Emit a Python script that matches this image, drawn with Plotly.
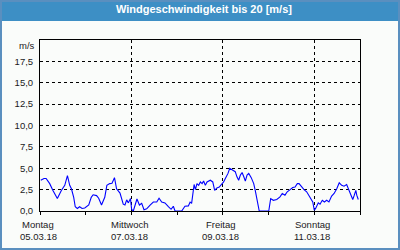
import plotly.graph_objects as go

# hours since Montag 05.03.18 00:00
hours = [0.4, 2.1, 3.2, 5.1, 6.8, 9.1, 11.2, 13.0, 14.4, 15.6, 16.5, 17.7, 18.5, 19.6, 20.8,
         22.1, 23.5, 24.4, 25.6, 26.9, 27.9, 29.7, 30.8, 32.3, 34.0, 35.1, 36.6, 37.8, 39.1,
         40.2, 42.0, 43.7, 44.6, 45.5, 46.4, 47.5, 48.1, 49.0, 50.9, 52.2, 53.4, 54.6, 56.0,
         57.8, 59.5, 61.3, 62.5, 63.9, 65.6, 67.4, 68.8, 70.0, 70.9, 74.4, 76.1, 77.9, 78.8,
         79.6, 80.9, 81.6, 82.4, 83.3, 84.2, 85.1, 85.9, 86.8, 87.7, 89.4, 90.7, 91.7, 92.9,
         94.1, 95.2, 96.4, 97.3, 98.7, 99.6, 100.8, 101.7, 102.5, 103.4, 104.3, 105.2, 106.1,
         107.0, 107.8, 108.7, 109.6, 110.9, 112.2, 113.0, 113.9, 114.5, 115.1, 120.1, 120.5,
         121.1, 122.5, 124.3, 126.0, 127.2, 128.6, 129.8, 131.3, 132.7, 133.9, 135.1, 136.0,
         137.4, 138.6, 140.0, 141.8, 143.2, 144.0, 144.7, 146.1, 147.0, 148.2, 149.3, 150.5,
         151.7, 153.1, 154.4, 155.8, 157.1, 158.4, 159.6, 161.0, 162.2, 163.1, 164.2, 165.0,
         165.8, 166.3, 167.1]
speed = [3.6, 3.8, 3.8, 3.2, 2.4, 1.45, 2.4, 3.0, 4.15, 3.0, 2.6, 1.6, 0.5, 0.3, 0.5,
         0.3, 0.35, 0.5, 0.7, 1.6, 1.9, 1.8, 1.5, 0.7, 1.6, 3.0, 3.2, 3.25, 3.9,
         2.6, 2.1, 0.8, 0.7, 1.3, 0.95, 1.45, 0.2, 0.0, 1.4, 0.7, 0.9, 0.15, 0.25,
         0.7, 1.05, 1.05, 1.5, 1.05, 0.95, 0.5, 0.2, 0.55, 0.0, 0.0, 0.55, 0.6, 1.05,
         0.9, 3.1, 2.5, 3.2, 3.0, 3.4, 3.2, 3.5, 3.0, 3.4, 3.6, 3.4, 2.4, 2.7,
         2.8, 3.1, 3.4, 3.8, 4.4, 5.0, 4.8, 4.7, 4.6, 4.0, 3.6, 4.2, 4.5,
         4.0, 3.5, 4.2, 4.4, 3.9, 3.2, 2.4, 1.25, 0.3, 0.0, 0.0, 0.8,
         1.45, 1.25, 1.35, 1.65, 2.05, 1.85, 2.25, 2.5, 2.75, 2.8, 3.2, 3.2,
         2.75, 2.5, 2.25, 1.65, 1.05, 0.1, 0.3, 0.95, 0.8, 1.25, 1.05, 1.25,
         1.05, 1.75, 2.05, 2.6, 3.3, 3.0, 2.9, 3.1, 2.4, 1.85, 1.35, 1.85,
         2.4, 1.85, 1.35]

x_tickvals = [0, 48, 96, 144]
x_daynames = ["Montag", "Mittwoch", "Freitag", "Sonntag"]
x_dates = ["05.03.18", "07.03.18", "09.03.18", "11.03.18"]
y_tickvals = [0, 2.5, 5, 7.5, 10, 12.5, 15, 17.5]
title_text = "Windgeschwindigkeit bis 20 [m/s]"
unit_text = "m/s"

W, H = 400, 250
ML, MR, MT, MB = 40, 40, 40, 39
PW, PH = W - ML - MR, H - MT - MB


def px_x(px):
    return (px - ML) / PW


def px_y(py_top):
    return (H - py_top - MB) / PH


fig = go.Figure()
fig.add_trace(go.Scatter(x=hours, y=speed, mode="lines",
                         line=dict(color="#0000ff", width=1.1), hoverinfo="skip"))

font = dict(family="Liberation Sans, Arial, sans-serif", size=9.5, color="#1a1a1a")

annotations = [
    dict(text=title_text, xref="paper", yref="paper", x=px_x(204), y=px_y(9),
         xanchor="center", yanchor="middle", showarrow=False,
         font=dict(family="Liberation Sans, Arial, sans-serif", size=11,
                   color="white", weight="bold")),
    dict(text=unit_text, xref="paper", yref="paper", x=px_x(37), y=px_y(45),
         xanchor="right", yanchor="middle", showarrow=False, font=font),
]
for xv, dn, dt in zip(x_tickvals, x_daynames, x_dates):
    annotations.append(dict(text=dn, xref="x", yref="paper", x=xv, y=px_y(224.5),
                            xanchor="center", yanchor="middle", xshift=-2,
                            showarrow=False, font=font))
    annotations.append(dict(text=dt, xref="x", yref="paper", x=xv, y=px_y(237),
                            xanchor="center", yanchor="middle", xshift=-2,
                            showarrow=False, font=font))

fig.update_layout(
    width=W, height=H,
    margin=dict(l=ML, r=MR, t=MT, b=MB, pad=0, autoexpand=False),
    paper_bgcolor="#fafcfa", plot_bgcolor="#fafcfa",
    separators=",.",
    showlegend=False,
    font=font,
    xaxis=dict(range=[0, 168], tickvals=x_tickvals, showticklabels=False,
               showgrid=True, gridcolor="black", gridwidth=1, griddash="3px,3px",
               showline=True, linecolor="black", linewidth=1, mirror=True,
               ticks="outside", ticklen=3, tickcolor="black", zeroline=False,
               minor=dict(dtick=24, tick0=0, ticks="outside", ticklen=3,
                          tickcolor="black", showgrid=False),
               automargin=False, fixedrange=True),
    yaxis=dict(range=[0, 20], tickvals=y_tickvals, tickformat=".1f",
               showgrid=True, gridcolor="black", gridwidth=1, griddash="3px,3px",
               showline=True, linecolor="black", linewidth=1, mirror=True,
               ticks="", zeroline=False, ticklabelstandoff=4,
               tickfont=font, automargin=False, fixedrange=True),
    shapes=[
        dict(type="rect", xref="paper", yref="paper",
             x0=px_x(0), x1=px_x(W), y0=px_y(21), y1=px_y(0),
             fillcolor="#3d8fc5", line=dict(width=0), layer="above"),
        dict(type="rect", xref="paper", yref="paper",
             x0=px_x(1), x1=px_x(W - 1), y0=px_y(H - 1), y1=px_y(1),
             fillcolor="rgba(0,0,0,0)", line=dict(color="#5a8fbf", width=2), layer="above"),
    ],
    annotations=annotations,
)

fig.write_html("out.html")
